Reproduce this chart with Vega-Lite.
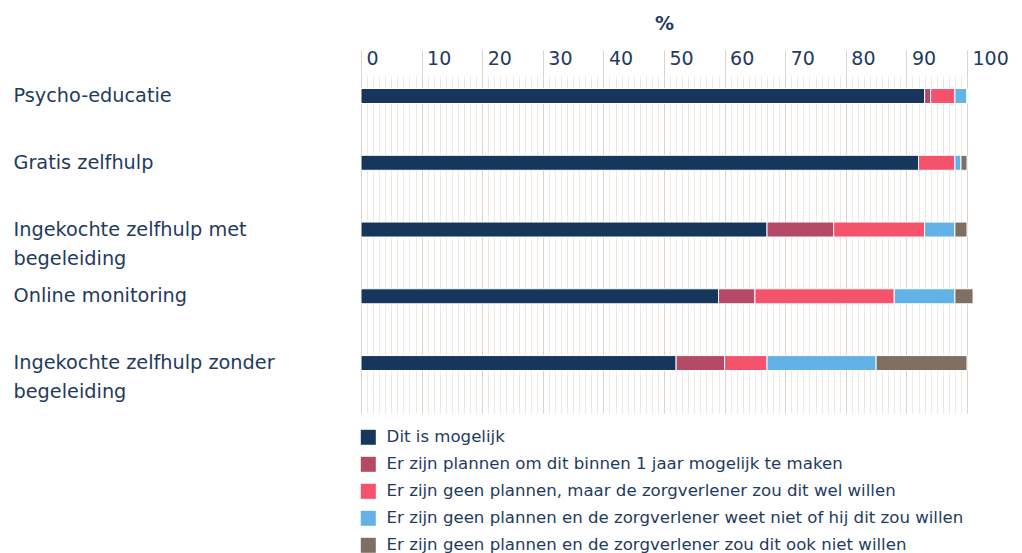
{
  "$schema": "https://vega.github.io/schema/vega-lite/v6.json",
  "width": 606,
  "height": 337,
  "autosize": {"type": "none"},
  "padding": {"left": 361, "top": 76, "right": 55, "bottom": 140},
  "background": "white",
  "config": {"view": {"stroke": null}, "font": "DejaVu Sans"},
  "data": {
    "values": [
      {"item": "Psycho-educatie", "answer": "Dit is mogelijk", "k": 1, "pct": 93},
      {"item": "Psycho-educatie", "answer": "Er zijn plannen om dit binnen 1 jaar mogelijk te maken", "k": 2, "pct": 1},
      {"item": "Psycho-educatie", "answer": "Er zijn geen plannen, maar de zorgverlener zou dit wel willen", "k": 3, "pct": 4},
      {"item": "Psycho-educatie", "answer": "Er zijn geen plannen en de zorgverlener weet niet of hij dit zou willen", "k": 4, "pct": 2},
      {"item": "Psycho-educatie", "answer": "Er zijn geen plannen en de zorgverlener zou dit ook niet willen", "k": 5, "pct": 0},
      {"item": "Gratis zelfhulp", "answer": "Dit is mogelijk", "k": 1, "pct": 92},
      {"item": "Gratis zelfhulp", "answer": "Er zijn plannen om dit binnen 1 jaar mogelijk te maken", "k": 2, "pct": 0},
      {"item": "Gratis zelfhulp", "answer": "Er zijn geen plannen, maar de zorgverlener zou dit wel willen", "k": 3, "pct": 6},
      {"item": "Gratis zelfhulp", "answer": "Er zijn geen plannen en de zorgverlener weet niet of hij dit zou willen", "k": 4, "pct": 1},
      {"item": "Gratis zelfhulp", "answer": "Er zijn geen plannen en de zorgverlener zou dit ook niet willen", "k": 5, "pct": 1},
      {"item": "Ingekochte zelfhulp met begeleiding", "answer": "Dit is mogelijk", "k": 1, "pct": 67},
      {"item": "Ingekochte zelfhulp met begeleiding", "answer": "Er zijn plannen om dit binnen 1 jaar mogelijk te maken", "k": 2, "pct": 11},
      {"item": "Ingekochte zelfhulp met begeleiding", "answer": "Er zijn geen plannen, maar de zorgverlener zou dit wel willen", "k": 3, "pct": 15},
      {"item": "Ingekochte zelfhulp met begeleiding", "answer": "Er zijn geen plannen en de zorgverlener weet niet of hij dit zou willen", "k": 4, "pct": 5},
      {"item": "Ingekochte zelfhulp met begeleiding", "answer": "Er zijn geen plannen en de zorgverlener zou dit ook niet willen", "k": 5, "pct": 2},
      {"item": "Online monitoring", "answer": "Dit is mogelijk", "k": 1, "pct": 59},
      {"item": "Online monitoring", "answer": "Er zijn plannen om dit binnen 1 jaar mogelijk te maken", "k": 2, "pct": 6},
      {"item": "Online monitoring", "answer": "Er zijn geen plannen, maar de zorgverlener zou dit wel willen", "k": 3, "pct": 23},
      {"item": "Online monitoring", "answer": "Er zijn geen plannen en de zorgverlener weet niet of hij dit zou willen", "k": 4, "pct": 10},
      {"item": "Online monitoring", "answer": "Er zijn geen plannen en de zorgverlener zou dit ook niet willen", "k": 5, "pct": 3},
      {"item": "Ingekochte zelfhulp zonder begeleiding", "answer": "Dit is mogelijk", "k": 1, "pct": 52},
      {"item": "Ingekochte zelfhulp zonder begeleiding", "answer": "Er zijn plannen om dit binnen 1 jaar mogelijk te maken", "k": 2, "pct": 8},
      {"item": "Ingekochte zelfhulp zonder begeleiding", "answer": "Er zijn geen plannen, maar de zorgverlener zou dit wel willen", "k": 3, "pct": 7},
      {"item": "Ingekochte zelfhulp zonder begeleiding", "answer": "Er zijn geen plannen en de zorgverlener weet niet of hij dit zou willen", "k": 4, "pct": 18},
      {"item": "Ingekochte zelfhulp zonder begeleiding", "answer": "Er zijn geen plannen en de zorgverlener zou dit ook niet willen", "k": 5, "pct": 15}
    ]
  },
  "mark": {"type": "bar", "height": 15, "stroke": "white", "strokeWidth": 1},
  "encoding": {
    "y": {
      "field": "item",
      "type": "nominal",
      "sort": ["Psycho-educatie", "Gratis zelfhulp", "Ingekochte zelfhulp met begeleiding", "Online monitoring", "Ingekochte zelfhulp zonder begeleiding"],
      "scale": {"paddingInner": 0.4, "paddingOuter": 0.224, "align": 0},
      "axis": {
        "title": null,
        "domain": false,
        "ticks": false,
        "tickSize": 0,
        "grid": false,
        "labelAlign": "left",
        "labelBaseline": "middle",
        "labelPadding": 348,
        "labelFontSize": 19.3,
        "labelColor": "#1f3b5e",
        "labelLimit": 400,
        "labelLineHeight": 29,
        "labelExpr": "datum.value == 'Ingekochte zelfhulp met begeleiding' ? ['Ingekochte zelfhulp met', 'begeleiding'] : datum.value == 'Ingekochte zelfhulp zonder begeleiding' ? ['Ingekochte zelfhulp zonder', 'begeleiding'] : datum.value"
      }
    },
    "x": {
      "field": "pct",
      "type": "quantitative",
      "stack": "zero",
      "scale": {"domain": [0, 100], "nice": false},
      "axis": {
        "orient": "top",
        "title": "%",
        "titleFontSize": 19,
        "titleFontWeight": "bold",
        "titleColor": "#1f3b5e",
        "titlePadding": 16,
        "values": [0,1,2,3,4,5,6,7,8,9,10,11,12,13,14,15,16,17,18,19,20,21,22,23,24,25,26,27,28,29,30,31,32,33,34,35,36,37,38,39,40,41,42,43,44,45,46,47,48,49,50,51,52,53,54,55,56,57,58,59,60,61,62,63,64,65,66,67,68,69,70,71,72,73,74,75,76,77,78,79,80,81,82,83,84,85,86,87,88,89,90,91,92,93,94,95,96,97,98,99,100],
        "grid": true,
        "gridColor": {"condition": {"test": "datum.value % 10 === 0", "value": "#ddd3ca"}, "value": "#efe9e4"},
        "gridWidth": 1,
        "domain": false,
        "ticks": true,
        "tickSize": 26,
        "tickColor": "#ddd3ca",
        "tickOpacity": {"condition": {"test": "datum.value % 10 === 0", "value": 1}, "value": 0},
        "labelExpr": "datum.value % 10 === 0 ? datum.label : ''",
        "labelAlign": "left",
        "labelBaseline": "middle",
        "labelPadding": -8,
        "labelOffset": 5,
        "labelFlush": false,
        "labelOverlap": false,
        "labelBound": false,
        "labelFontSize": 19,
        "labelColor": "#1f3b5e"
      }
    },
    "color": {
      "field": "answer",
      "type": "nominal",
      "scale": {
        "domain": ["Dit is mogelijk", "Er zijn plannen om dit binnen 1 jaar mogelijk te maken", "Er zijn geen plannen, maar de zorgverlener zou dit wel willen", "Er zijn geen plannen en de zorgverlener weet niet of hij dit zou willen", "Er zijn geen plannen en de zorgverlener zou dit ook niet willen"],
        "range": ["#16365c", "#b54a66", "#f5526c", "#62b2e8", "#7f6f62"]
      },
      "legend": {
        "orient": "none",
        "legendX": -1,
        "legendY": 353,
        "title": null,
        "direction": "vertical",
        "symbolType": "square",
        "symbolSize": 225,
        "symbolStrokeWidth": 0,
        "symbolOpacity": 1,
        "labelFontSize": 16.6,
        "labelColor": "#1f3b5e",
        "labelOffset": 10,
        "rowPadding": 10,
        "labelLimit": 700
      }
    },
    "order": {"field": "k", "type": "quantitative"}
  }
}
